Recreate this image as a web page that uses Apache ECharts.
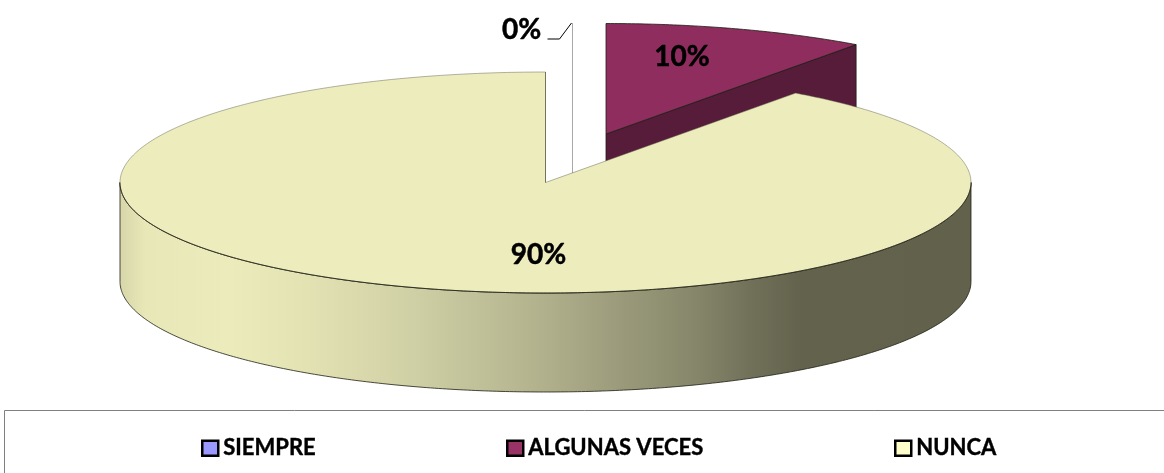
<!DOCTYPE html>
<html lang="es">
<head>
    <meta charset="UTF-8">
    <title>Pie 3D</title>
    <script src="https://cdn.jsdelivr.net/npm/echarts@6/dist/echarts.min.js"></script>
    <style>
        html, body { margin: 0; padding: 0; background: #fff; }
        #chart { width: 1164px; height: 473px; }
    </style>
</head>
<body>
    <div id="chart"></div>
    <script>
        // datos
        var categories = ['SIEMPRE', 'ALGUNAS VECES', 'NUNCA'];
        var percents = [0, 10, 90];

        // geometria del pastel
        var cx = 545.5, cy = 182.5, rx = 425.5, ry = 110.5, depth = 99;
        var explode = [[27, -48.5], [60.5, -48.5], [0, 0]];
        var labelOffset = [[-51, -104], [76, -77], [-7, 72.5]];
        var topColors = ['#9999ff', '#8e2d5e', '#edecbc'];
        var sideColors = ['#5c5c99', '#561c3a', '#edecbc'];
        var legendColors = ['#9999ff', '#993366', '#ffffcc'];
        var legendLeft = [196, 501, 889];
        var edge = 'rgba(30,30,20,0.8)';
        var softEdge = 'rgba(90,90,70,0.45)';

        var total = percents.reduce(function (a, b) { return a + b; }, 0);
        var starts = [];
        percents.reduce(function (acc, v, i) {
            starts[i] = acc;
            return acc + v / total * Math.PI * 2;
        }, 0);

        function rim(ox, oy, a) {
            return [ox + rx * Math.sin(a), oy - ry * Math.cos(a)];
        }

        function arc(ox, oy, a0, a1) {
            var pts = [];
            var n = Math.max(1, Math.ceil((a1 - a0) / 0.01));
            for (var k = 0; k <= n; k++) {
                pts.push(rim(ox, oy, a0 + (a1 - a0) * k / n));
            }
            return pts;
        }

        function renderSlice(params, api) {
            var i = params.seriesIndex;
            var sweep = api.value(0) / total * Math.PI * 2;
            var a0 = starts[i], a1 = a0 + sweep;
            var ox = cx + explode[i][0], oy = cy + explode[i][1];
            var children = [];

            // cara del corte (solo se ve la del final del sector)
            var pe = rim(ox, oy, a1);
            children.push({
                type: 'polygon',
                shape: { points: [[ox, oy], pe, [pe[0], pe[1] + depth], [ox, oy + depth]] },
                style: { fill: sideColors[i], stroke: sweep === 0 ? '#a8a8a8' : edge, lineWidth: 1 }
            });

            // pared curva, mitad delantera
            var f0 = Math.max(a0, Math.PI / 2), f1 = Math.min(a1, Math.PI * 1.5);
            var front = null;
            if (f1 > f0) {
                front = arc(ox, oy, f0, f1);
                var back = front.map(function (p) { return [p[0], p[1] + depth]; }).reverse();
                children.push({
                    type: 'polygon',
                    shape: { points: front.concat(back) },
                    style: {
                        // va de derecha a izquierda
                        fill: new echarts.graphic.LinearGradient(0, 0, 1, 0, [
                            { offset: 0, color: '#d6d6aa' },
                            { offset: 0.03, color: '#e8e7b7' },
                            { offset: 0.13, color: '#ecebbb' },
                            { offset: 0.22, color: '#e3e2b3' },
                            { offset: 0.35, color: '#cfcfa5' },
                            { offset: 0.5, color: '#b0b08c' },
                            { offset: 0.68, color: '#85856a' },
                            { offset: 0.74, color: '#71715a' },
                            { offset: 0.8, color: '#63634d' },
                            { offset: 1, color: '#62624c' }
                        ]),
                        stroke: edge,
                        lineWidth: 1
                    }
                });
            }

            // cara superior
            children.push({
                type: 'polygon',
                shape: { points: [[ox, oy]].concat(arc(ox, oy, a0, a1)) },
                style: {
                    fill: topColors[i],
                    stroke: sweep === 0 ? '#a8a8a8' : (front ? softEdge : edge),
                    lineWidth: 1
                }
            });
            if (front) {
                children.push({
                    type: 'polyline',
                    shape: { points: front },
                    style: { fill: 'none', stroke: edge, lineWidth: 1 }
                });
            }

            // etiqueta
            var lx = ox + labelOffset[i][0], ly = oy + labelOffset[i][1];
            children.push({
                type: 'text',
                z2: 20,
                style: {
                    x: lx, y: ly,
                    text: api.value(0) + '%',
                    fill: '#000',
                    stroke: '#000',
                    lineWidth: 0.5,
                    font: 'bold 28px Lato',
                    align: 'center',
                    verticalAlign: 'middle'
                }
            });

            // guia de la etiqueta 0%
            if (sweep === 0) {
                children.push({
                    type: 'polyline',
                    shape: { points: [[lx + 26, ly + 9], [lx + 38, ly + 9], [lx + 50, ly - 7]] },
                    style: { fill: 'none', stroke: '#000', lineWidth: 1 }
                });
            }

            return { type: 'group', children: children };
        }

        var chart = echarts.init(document.getElementById('chart'), null, { renderer: 'canvas' });
        chart.setOption({
            animation: false,
            graphic: [{
                type: 'polyline',
                silent: true,
                shape: { points: [[4.5, 473], [4.5, 410.5], [1164, 410.5]] },
                style: { fill: 'none', stroke: '#808080', lineWidth: 1 }
            }],
            legend: categories.map(function (name, i) {
                return {
                    left: legendLeft[i],
                    top: 432,
                    itemWidth: 16,
                    itemHeight: 15,
                    selectedMode: false,
                    textStyle: {
                        fontFamily: 'Lato',
                        fontWeight: 'bold',
                        fontSize: 22,
                        color: '#000',
                        textBorderColor: '#000',
                        textBorderWidth: 0.4
                    },
                    data: [{
                        name: name,
                        icon: 'rect',
                        itemStyle: { color: legendColors[i], borderColor: '#000', borderWidth: 2.5 }
                    }]
                };
            }),
            series: categories.map(function (name, i) {
                return {
                    name: name,
                    type: 'custom',
                    coordinateSystem: 'none',
                    renderItem: renderSlice,
                    itemStyle: { color: legendColors[i] },
                    data: [percents[i]]
                };
            })
        });
    </script>
</body>
</html>
